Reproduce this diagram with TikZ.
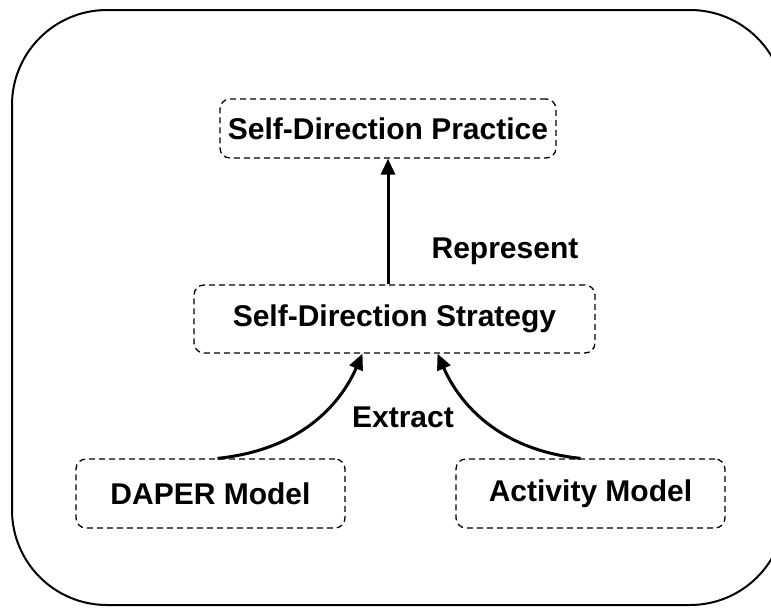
\documentclass[tikz,border=0pt]{standalone}
\usepackage{fontspec}
\setmainfont{Liberation Sans}
\usetikzlibrary{positioning, arrows.meta}

\begin{document}
\begin{tikzpicture}[x=1pt, y=-1pt, font=\fontsize{30}{36}\selectfont\bfseries, >={Triangle[length=16pt, width=14pt]},
  b/.style={draw, dashed, dash pattern=on 6pt off 4pt, line width=1.3pt, rounded corners=10pt, align=center, inner sep=0pt},
  a/.style={->, line width=3pt}]
  \useasboundingbox (0,0) rectangle (771,608);
  \draw[line width=2pt, rounded corners=95pt] (12,10) rectangle (785,605);
  \node[b, minimum width=336pt, minimum height=59pt] (p) at (388,128.5){Self-Direction Practice};
  \node[b, minimum width=401pt, minimum height=68pt] (s) at (394.5,319){Self-Direction Strategy};
  \node[b, minimum width=269pt, minimum height=69pt] (d) at (210.5,493.5){DAPER Model};
  \node[b, minimum width=269pt, minimum height=69pt] (m) at (590.5,493.5){Activity Model};
  \node (r) at (505,251){Represent};
  \node (e) at (403,417){Extract};
  \draw[a] ([xshift=-6.5pt]s.north) -- (p.south);
  \draw[a] ([xshift=7pt]d.north) .. controls (300,450) and (340,405) .. ([xshift=-32pt]s.south);
  \draw[a] ([xshift=-10pt]m.north) .. controls (500,450) and (460,405) .. ([xshift=43pt]s.south);
\end{tikzpicture}
\end{document}
